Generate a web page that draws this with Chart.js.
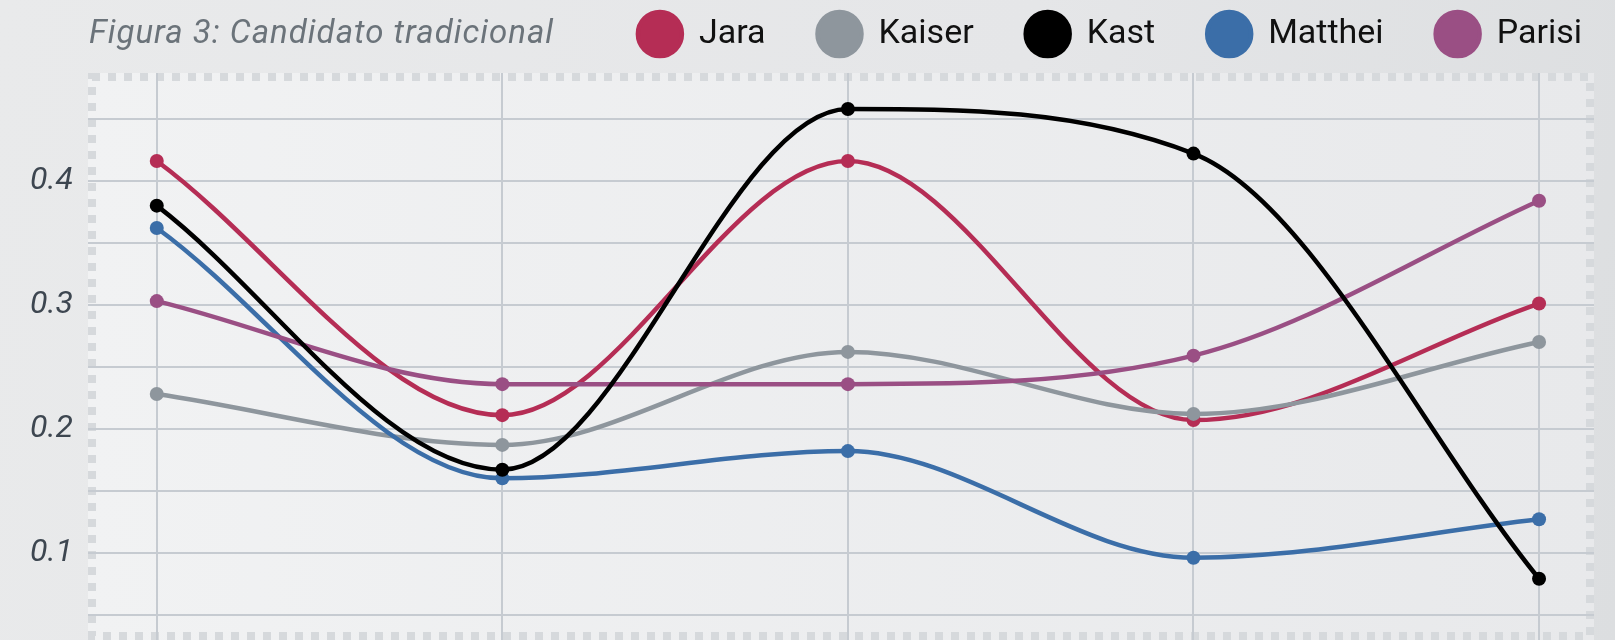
<!DOCTYPE html>
<html lang="es">
<head>
  <meta charset="UTF-8">
  <title>Figura 3: Candidato tradicional</title>
  <style>
    body {
      margin: 0;
      background: linear-gradient(100deg, #e9eaeb 0%, #e5e6e8 60%, #dcdee0 100%);
      font-family: Roboto, sans-serif;
    }
    #wrap {
      position: relative;
      width: 1615px;
      height: 640px;
    }
    #titulo {
      position: absolute;
      left: 89px;
      top: 16px;
      margin: 0;
      font: italic 400 33px/32px Roboto, sans-serif;
      letter-spacing: 1px;
      color: #6b737a;
    }
  </style>
</head>
<body>
  <div id="wrap">
    <canvas id="grafico"></canvas>
    <h1 id="titulo">Figura 3: Candidato tradicional</h1>
  </div>

  <script src="https://cdn.jsdelivr.net/npm/chart.js"></script>
  <script>
    // x positions of the five measurements (their labels are not visible)
    const categories = [0, 1, 2, 3, 4];

    const jara    = [0.416, 0.211, 0.416, 0.207, 0.301];
    const kaiser  = [0.228, 0.187, 0.262, 0.212, 0.270];
    const kast    = [0.380, 0.167, 0.458, 0.422, 0.079];
    const matthei = [0.362, 0.160, 0.182, 0.096, 0.127];
    const parisi  = [0.303, 0.236, 0.236, 0.259, 0.384];

    const yTicks = [0.1, 0.2, 0.3, 0.4];

    Chart.defaults.font.family = 'Roboto, sans-serif';

    function serie(label, data, color, order) {
      return {
        label: label,
        data: data,
        order: order,
        borderColor: color,
        backgroundColor: color,
        borderWidth: 4.5,
        pointRadius: 7,
        pointBorderWidth: 0,
        pointBackgroundColor: color,
        cubicInterpolationMode: 'monotone'
      };
    }

    // area background + dotted frame
    const areaStyle = {
      id: 'areaStyle',
      beforeDraw(chart) {
        const { ctx, chartArea: a } = chart;
        const g = ctx.createLinearGradient(a.left, 0, a.right, 0);
        g.addColorStop(0, '#f1f2f3');
        g.addColorStop(1, '#e8e9eb');
        ctx.save();
        ctx.fillStyle = g;
        ctx.fillRect(a.left, a.top, a.right - a.left, a.bottom - a.top);
        ctx.setLineDash([8, 8]);
        ctx.lineWidth = 8;
        ctx.strokeStyle = '#d6d9dc';
        ctx.strokeRect(a.left + 4, a.top + 4, a.right - a.left - 8, a.bottom - a.top - 8);
        ctx.restore();
      }
    };

    // legend sits on the title row, right aligned
    const legendRow = {
      id: 'legendRow',
      beforeInit(chart) {
        const fit = chart.legend.fit;
        chart.legend.fit = function () {
          fit.call(this);
          this.height = 73;
        };
      },
      afterLayout(chart) {
        chart.legend.top = -40;
        chart.legend.right = chart.width + 19;
      }
    };

    const gridColor = '#c6cbd1';

    new Chart(document.getElementById('grafico'), {
      type: 'line',
      data: {
        labels: categories,
        datasets: [
          serie('Jara', jara, '#b52d55', 4),
          serie('Kaiser', kaiser, '#8e969d', 3),
          serie('Kast', kast, '#000000', 0),
          serie('Matthei', matthei, '#3b6ea8', 2),
          serie('Parisi', parisi, '#9a4f84', 1)
        ]
      },
      options: {
        responsive: true,
        maintainAspectRatio: false,
        animation: false,
        layout: { autoPadding: false, padding: { left: 0, right: 21, top: 0, bottom: 0 } },
        scales: {
          x: {
            type: 'linear',
            min: -0.199,
            max: 4.159,
            ticks: { display: false, stepSize: 1, includeBounds: false },
            grid: { color: gridColor, lineWidth: 2, drawTicks: false },
            border: { display: false }
          },
          y: {
            min: 0.0296,
            max: 0.487,
            afterFit(scale) {
              scale.width = 88;
              scale.paddingTop = 0;
              scale.paddingBottom = 0;
            },
            ticks: {
              stepSize: 0.05,
              includeBounds: false,
              padding: 15,
              color: '#3d4650',
              font: { size: 32, style: 'italic' },
              callback(value) {
                const t = yTicks.find(v => Math.abs(v - value) < 1e-6);
                return t === undefined ? '' : t.toFixed(1);
              }
            },
            grid: { color: gridColor, lineWidth: 2, drawTicks: false },
            border: { display: false }
          }
        },
        plugins: {
          legend: {
            position: 'top',
            align: 'end',
            labels: {
              color: '#111111',
              font: { size: 34 },
              boxWidth: 44,
              boxHeight: 44,
              useBorderRadius: true,
              borderRadius: 22,
              padding: 52,
              sort: (a, b) => a.datasetIndex - b.datasetIndex
            }
          },
          tooltip: { enabled: false }
        }
      },
      plugins: [areaStyle, legendRow]
    });
  </script>
</body>
</html>
